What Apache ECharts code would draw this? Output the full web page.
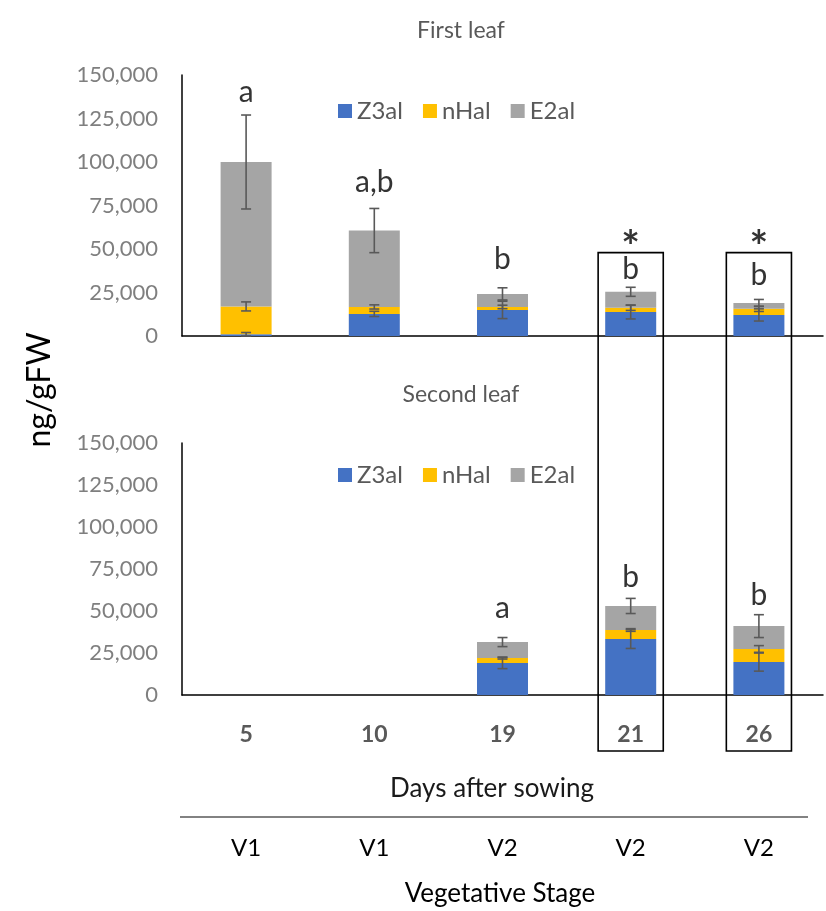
<!DOCTYPE html>
<html>
<head>
<meta charset="utf-8">
<script src="https://cdn.jsdelivr.net/npm/echarts@6/dist/echarts.min.js"></script>
<style>
html,body{margin:0;padding:0;background:#fff;}
#c{width:826px;height:911px;}
</style>
</head>
<body>
<div id="c"></div>
<script>
// ---- data ----
const days = ['5', '10', '19', '21', '26'];
const stages = ['V1', 'V1', 'V2', 'V2', 'V2'];
const yTicks = [0, 25000, 50000, 75000, 100000, 125000, 150000];

const firstZ3al = [1000, 12700, 15000, 13800, 12100];
const firstNHal = [16000, 4000, 1700, 2400, 3500];
const firstE2al = [83000, 43900, 7500, 9200, 3400];
const firstZ3alErr = [1000, 1500, 5000, 4000, 3500];
const firstNHalErr = [2600, 1200, 1000, 1500, 1500];
const firstE2alErr = [27000, 12700, 3500, 2600, 2000];

const secondZ3al = [null, null, 19000, 33300, 19600];
const secondNHal = [null, null, 3000, 5400, 7800];
const secondE2al = [null, null, 9500, 14300, 13600];
const secondZ3alErr = [null, null, 3300, 5600, 5400];
const secondNHalErr = [null, null, 600, 800, 2000];
const secondE2alErr = [null, null, 2700, 4500, 6800];

// significance letters: [category index, text, y position in data units]
const firstLetters = [[0, 'a', 140200], [1, 'a,b', 88300], [2, 'b', 43900], [3, 'b', 38100], [4, 'b', 35000]];
const firstStars = [[3, '*', 50800], [4, '*', 50800]];
const secondLetters = [[2, 'a', 51800], [3, 'b', 70200], [4, 'b', 59500]];
const boxedDays = [3, 4];
const boxTopValue = 47900;

const seriesNames = ['Z3al', 'nHal', 'E2al'];
const colors = ['#4472C4', '#FFC000', '#A5A5A5'];

// ---- chart ----
const FONT = 'Lato, "Open Sans", sans-serif';
const chart = echarts.init(document.getElementById('c'), null, {renderer: 'canvas'});

function errData(vals, cumBase, errs) {
  const out = [];
  vals.forEach((v, i) => {
    if (v == null || errs[i] == null) return;
    out.push([i, cumBase[i] + v, errs[i]]);
  });
  return out;
}
function cum(arrs) {
  return arrs[0].map((_, i) => arrs.reduce((s, a) => s + (a[i] || 0), 0));
}
const zeros = days.map(() => 0);

function errSeries(xi, yi, data) {
  return {
    type: 'custom', xAxisIndex: xi, yAxisIndex: yi, z: 10, silent: true,
    data: data,
    renderItem: function (params, api) {
      const idx = api.value(0), v = api.value(1), e = api.value(2);
      const hi = api.coord([idx, v + e]);
      const lo = api.coord([idx, v - e]);
      const cw = 5;
      const st = {stroke: '#595959', lineWidth: 1.6};
      return {
        type: 'group',
        children: [
          {type: 'line', shape: {x1: hi[0], y1: hi[1], x2: lo[0], y2: lo[1]}, style: st},
          {type: 'line', shape: {x1: hi[0] - cw, y1: hi[1], x2: hi[0] + cw, y2: hi[1]}, style: st},
          {type: 'line', shape: {x1: lo[0] - cw, y1: lo[1], x2: lo[0] + cw, y2: lo[1]}, style: st}
        ]
      };
    }
  };
}

function letterSeries(xi, yi, letters, size, weight) {
  return {
    type: 'scatter', xAxisIndex: xi, yAxisIndex: yi, symbolSize: 0, silent: true, z: 12,
    data: letters.map(l => ({value: [l[0], l[2]], name: l[1]})),
    label: {
      show: true, position: 'inside', formatter: p => p.name,
      fontFamily: FONT, fontSize: size, fontWeight: weight, color: '#000'
    }
  };
}

const f1 = [firstZ3al, firstNHal, firstE2al];
const f1e = [firstZ3alErr, firstNHalErr, firstE2alErr];
const s2 = [secondZ3al, secondNHal, secondE2al];
const s2e = [secondZ3alErr, secondNHalErr, secondE2alErr];

const series = [];
seriesNames.forEach((n, k) => {
  series.push({
    name: n, type: 'bar', stack: 'first', xAxisIndex: 0, yAxisIndex: 0,
    barWidth: 51, data: f1[k], itemStyle: {color: colors[k]}
  });
});
seriesNames.forEach((n, k) => {
  series.push({
    name: n, type: 'bar', stack: 'second', xAxisIndex: 1, yAxisIndex: 1,
    barWidth: 51, data: s2[k], itemStyle: {color: colors[k]}
  });
});
for (let k = 0; k < 3; k++) {
  const base1 = k === 0 ? zeros : cum(f1.slice(0, k));
  series.push(errSeries(0, 0, errData(f1[k], base1, f1e[k])));
  const base2 = k === 0 ? zeros : cum(s2.slice(0, k));
  series.push(errSeries(1, 1, errData(s2[k], base2, s2e[k])));
}
series.push(letterSeries(0, 0, firstLetters, 30, 'normal'));
series.push(letterSeries(0, 0, firstStars, 44, 'bold'));
series.push(letterSeries(1, 1, secondLetters, 30, 'normal'));

function yAxisCfg(gi) {
  return {
    type: 'value', gridIndex: gi, min: yTicks[0], max: yTicks[yTicks.length - 1],
    interval: yTicks[1] - yTicks[0],
    axisLine: {show: true, lineStyle: {color: '#000', width: 1.5}},
    axisTick: {show: false}, splitLine: {show: false},
    axisLabel: {
      margin: 24, fontFamily: FONT, fontSize: 22, color: '#7F7F7F',
      formatter: v => v.toLocaleString('en-US')
    }
  };
}

const legendBase = {
  data: seriesNames, icon: 'rect', itemWidth: 14, itemHeight: 14, itemGap: 20,
  textStyle: {fontFamily: FONT, fontSize: 24, color: '#595959'}, selectedMode: false
};

chart.setOption({
  animation: false,
  textStyle: {fontFamily: FONT},
  title: [
    {text: 'First leaf', left: 456, top: 14, textAlign: 'center',
     textStyle: {fontFamily: FONT, fontSize: 23, fontWeight: 'normal', color: '#595959'}},
    {text: 'Second leaf', left: 456, top: 378, textAlign: 'center',
     textStyle: {fontFamily: FONT, fontSize: 23, fontWeight: 'normal', color: '#595959'}}
  ],
  legend: [
    Object.assign({left: 333, top: 94}, legendBase),
    Object.assign({left: 333, top: 458}, legendBase)
  ],
  grid: [
    {left: 182, top: 75, width: 641, height: 261},
    {left: 182, top: 443, width: 641, height: 252}
  ],
  xAxis: [
    {type: 'category', gridIndex: 0, data: days,
     axisLine: {lineStyle: {color: '#000', width: 1.5}}, axisTick: {show: false}, axisLabel: {show: false}},
    {type: 'category', gridIndex: 1, data: days,
     axisLine: {lineStyle: {color: '#000', width: 1.5}}, axisTick: {show: false},
     axisLabel: {margin: 28, fontFamily: FONT, fontSize: 23, fontWeight: 'bold', color: '#595959'}},
    {type: 'category', gridIndex: 1, data: stages, position: 'bottom', offset: 140,
     axisLine: {show: false}, axisTick: {show: false},
     axisLabel: {margin: 1, fontFamily: FONT, fontSize: 24, color: '#000'}}
  ],
  yAxis: [yAxisCfg(0), yAxisCfg(1)],
  series: series
});

// annotation graphics (boxes around days 21 and 26, axis titles, separator line)
function drawGraphics() {
  const els = [];
  const band = 641 / days.length;
  boxedDays.forEach(i => {
    const top = chart.convertToPixel({gridIndex: 0}, [i, boxTopValue]);
    const base = chart.convertToPixel({gridIndex: 1}, [i, 0]);
    const half = band * 0.254;
    els.push({
      type: 'rect', z: 20, silent: true,
      shape: {x: top[0] - half, y: top[1], width: half * 2, height: base[1] + 56 - top[1]},
      style: {fill: null, stroke: '#000', lineWidth: 1.6}
    });
  });
  els.push({
    type: 'text', x: 492, y: 789, silent: true,
    style: {text: 'Days after sowing', font: '26px ' + FONT, fill: '#1a1a1a', align: 'center', verticalAlign: 'middle'}
  });
  els.push({
    type: 'line', silent: true,
    shape: {x1: 180, y1: 817, x2: 808, y2: 817},
    style: {stroke: '#595959', lineWidth: 1.5}
  });
  els.push({
    type: 'text', x: 500, y: 894, silent: true,
    style: {text: 'Vegetative Stage', font: '26px ' + FONT, fill: '#000', align: 'center', verticalAlign: 'middle'}
  });
  els.push({
    type: 'text', silent: true, x: 40, y: 390, rotation: Math.PI / 2,
    style: {text: 'ng/gFW', font: '32px ' + FONT, fill: '#000', align: 'center', verticalAlign: 'middle'}
  });
  chart.setOption({graphic: els});
}
drawGraphics();
</script>
</body>
</html>
